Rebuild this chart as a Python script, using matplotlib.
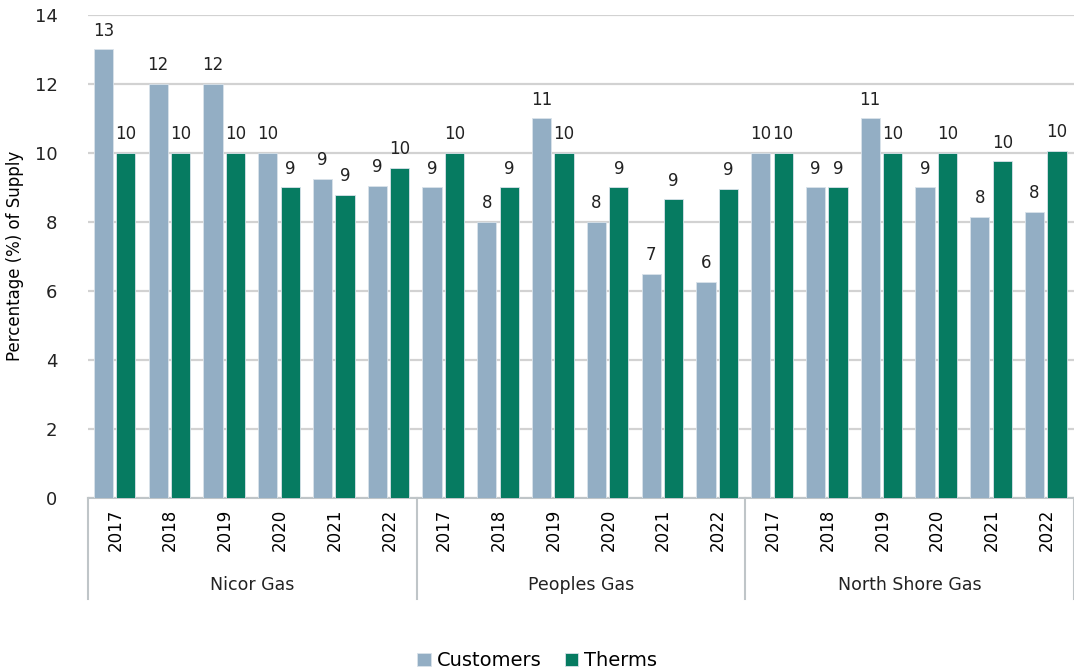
import numpy as np
import matplotlib.pyplot as plt

# data
companies = ["Nicor Gas", "Peoples Gas", "North Shore Gas"]
years = ["2017", "2018", "2019", "2020", "2021", "2022"]
customers = [13, 12, 12, 10, 9.25, 9.05,
             9, 8, 11, 8, 6.5, 6.25,
             10, 9, 11, 9, 8.15, 8.28]
therms = [10, 10, 10, 9, 8.78, 9.57,
          10, 9, 10, 9, 8.65, 8.95,
          10, 9, 10, 10, 9.75, 10.05]

cust_color = "#93aec4"
therm_color = "#067b61"
grid_color = "#d2d2d2"

plt.rcParams['font.family'] = ['DejaVu Sans']

fig = plt.figure(figsize=(10.74, 6.71), dpi=100)
ax = fig.add_axes([0.082, 0.258, 0.918, 0.72])

x = np.arange(len(customers))
w = 0.35
ax.bar(x - 0.22, customers, w, color=cust_color, edgecolor="#d9e2ea", linewidth=0.6, label="Customers", zorder=3)
ax.bar(x + 0.19, therms, w, color=therm_color, edgecolor="#d9e2ea", linewidth=0.6, label="Therms", zorder=3)

# data labels (rounded like the original)
for i in range(len(x)):
    ax.annotate(str(int(customers[i] + 0.5)), (x[i] - 0.22, customers[i]), xytext=(0, 7),
                textcoords="offset points", ha="center", va="bottom", fontsize=12, color="#222222")
    ax.annotate(str(int(therms[i] + 0.5)), (x[i] + 0.19, therms[i]), xytext=(0, 7),
                textcoords="offset points", ha="center", va="bottom", fontsize=12, color="#222222")

ax.set_xlim(-0.5, len(x) - 0.5)
ax.set_ylim(0, 14)
ax.set_yticks(range(0, 15, 2))
ax.tick_params(axis="y", labelsize=13, length=0, pad=22, labelcolor="#222222")
ax.yaxis.grid(True, color=grid_color, linewidth=1.6, zorder=0)
ax.set_axisbelow(True)
for s in ["top", "right", "left"]:
    ax.spines[s].set_visible(False)
ax.spines["bottom"].set_color("#bfc5c8")
ax.spines["bottom"].set_linewidth(1.5)

ax.set_ylabel("Percentage (%) of Supply", fontsize=12, labelpad=8)

# category axis: years + company groups
ax.set_xticks(x)
ax.set_xticklabels(years * len(companies), rotation=90, fontsize=12)
ax.tick_params(axis="x", length=0, pad=8)

trans = ax.get_xaxis_transform()
n = len(years)
for k in range(len(companies) + 1):
    xs = k * n - 0.5
    ax.plot([xs, xs], [0, -0.21], transform=trans, color="#bfc5c8", linewidth=1.5, clip_on=False)
for k, name in enumerate(companies):
    ax.text(k * n + (n - 1) / 2, -0.18, name, transform=trans, ha="center", va="center", fontsize=12.5, color="#222222")

leg = fig.legend(loc="lower center", bbox_to_anchor=(0.5, -0.025), ncol=2, frameon=False, fontsize=14,
                 handlelength=0.7, handleheight=0.7, handletextpad=0.3, columnspacing=1.2)

fig.savefig("out.png", dpi=100)
